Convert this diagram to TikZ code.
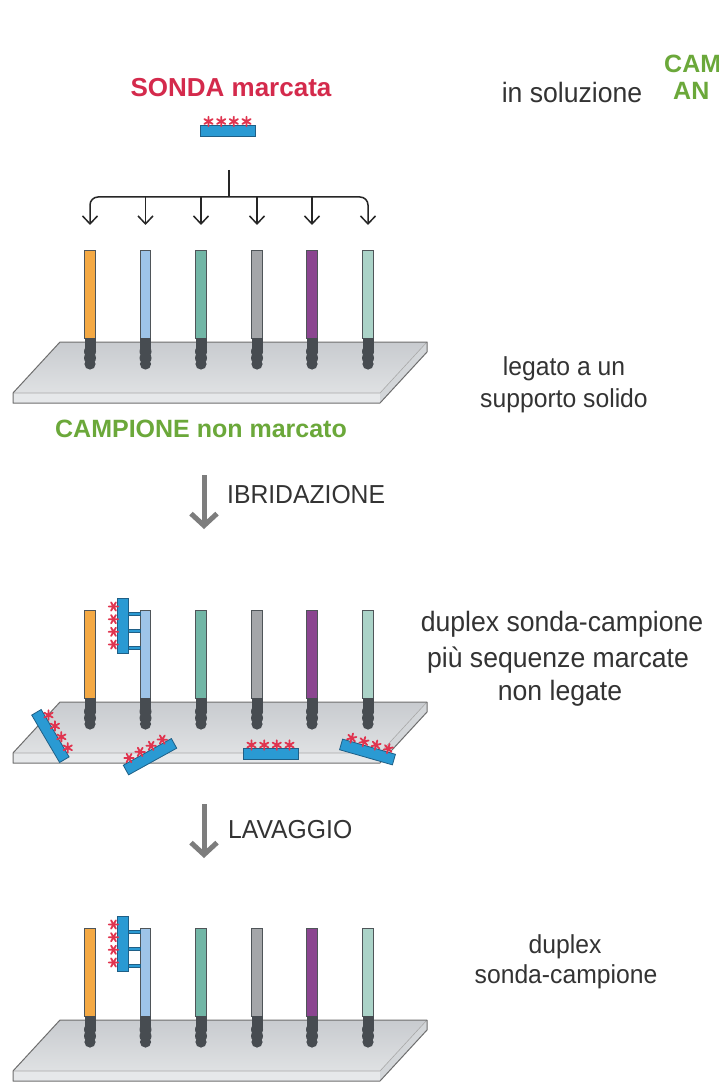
\documentclass[tikz,border=0pt]{standalone}
\usepackage{fontspec}
\setmainfont{Liberation Sans}
\newfontfamily\bodyfont[FakeStretch=0.95]{Liberation Sans}
\usetikzlibrary{arrows.meta}

\definecolor{probered}{HTML}{D42A4C}
\definecolor{labelgreen}{HTML}{6BA83A}
\definecolor{probeblue}{HTML}{2A9AD3}
\definecolor{probeedge}{HTML}{1F5F86}
\definecolor{starred}{HTML}{E0344F}
\definecolor{txtgray}{HTML}{333333}
\definecolor{arrowgray}{HTML}{7D7D7D}
\definecolor{slideA}{HTML}{C8CBCF}
\definecolor{slideB}{HTML}{DFE1E3}
\definecolor{slidefront}{HTML}{E6E8EA}
\definecolor{slideside}{HTML}{D3D6D9}
\definecolor{slideline}{HTML}{6E6E6E}
\definecolor{bead}{HTML}{474C51}
\definecolor{stripedge}{HTML}{4F5559}
\definecolor{sOrange}{HTML}{F4A944}
\definecolor{sBlue}{HTML}{9EC4E8}
\definecolor{sTeal}{HTML}{72B6A6}
\definecolor{sGray}{HTML}{A4A6A9}
\definecolor{sPurple}{HTML}{8B4590}
\definecolor{sMint}{HTML}{ABD3C8}

\tikzset{
  bodytext/.style={font=\bodyfont\fontsize{26}{31}\selectfont, text=txtgray, inner sep=0pt},
  bigbodytext/.style={font=\bodyfont\fontsize{28}{33}\selectfont, text=txtgray, inner sep=0pt},
  redlabel/.style={font=\bfseries\fontsize{26}{30}\selectfont, text=probered, inner sep=0pt},
  greenlabel/.style={font=\bfseries\fontsize{25}{30}\selectfont, text=labelgreen, inner sep=0pt},
  probebox/.style={fill=probeblue, draw=probeedge, line width=0.8},
  starline/.style={draw=starred, line width=1.8, line cap=round},
  stripbox/.style={draw=stripedge, line width=0.7},
  thinline/.style={draw=black!85, line width=1.5},
  thinarrow/.style={thinline, -{Straight Barb[length=8pt,width=15pt]}},
  bigarrow/.style={draw=arrowgray, line width=5, -{Straight Barb[length=12pt,width=26pt]}},
  probe/.pic={
    \draw[probebox] (-27.5,-5.5) rectangle (27.5,5.5);
    \foreach \sx in {-19,-6.3,6.3,19}{
      \draw[starline] (\sx,-9) +(90:4.8) -- +(270:4.8)
                               +(30:4.8) -- +(210:4.8)
                               +(150:4.8) -- +(330:4.8);
    }
  }
}

% one glass slide with six anchored strands; y = 0 is the top edge of the slide
\newcommand\arraypanel{%
  \shade[top color=slideA, bottom color=slideB] (60,0) -- (427,0) -- (380,51) -- (13,51) -- cycle;
  \fill[slidefront] (13,51) -- (380,51) -- (380,61) -- (13,61) -- cycle;
  \fill[slideside] (427,0) -- (427,10) -- (380,61) -- (380,51) -- cycle;
  \draw[slideline!60, line width=0.6] (13,51) -- (380,51) -- (427,0);
  \draw[slideline, line width=1, line join=round] (60,0) -- (427,0) -- (427,10) -- (380,61) -- (13,61) -- (13,51) -- cycle;
  \foreach \x/\c in {90/sOrange,145.5/sBlue,201/sTeal,257/sGray,312/sPurple,368/sMint}{
    \draw[stripbox, fill=\c] (\x-5.3,-92) rectangle (\x+5.3,-4);
    \fill[bead] (\x-5.5,-4) rectangle (\x+5.5,9);
    \fill[bead] (\x,9.5) circle (6);
    \fill[bead] (\x,16) circle (6);
    \fill[bead] (\x,22) circle (5.6);
  }
}

% probe paired with the second strand
\newcommand\duplexprobe{%
  \foreach \by in {-88,-71,-54}{
    \draw[fill=probeblue, draw=probeedge, line width=0.5] (127,\by-1.5) rectangle (140.2,\by+1.5);
  }
  \pic[rotate=90] at (122.5,-76.5) {probe};
}

\begin{document}
\begin{tikzpicture}[x=1pt,y=-1pt]
\useasboundingbox[fill=white] (0,0) rectangle (718,1083);

% ---------- top: labelled probe and its distribution ----------
\node[redlabel, anchor=base] (sondalabel) at (231,97) {SONDA marcata};
\pic at (227.5,130.5) {probe};

\node[bigbodytext, anchor=base] (insol) at (572,103) {in soluzione};
\node[greenlabel, anchor=base west] (camA) at (664,73) {CAM};
\node[greenlabel, anchor=base west] (camB) at (673,100) {AN};

\coordinate (hubtop) at (229,170);
\coordinate (hub) at (229,197);
\foreach \x [count=\i] in {90,145.5,201,257,312,368}{
  \coordinate (aim\i) at (\x,225);
}
\draw[thinline] (hubtop) -- (hub);
\draw[thinline, rounded corners=8,
      {Straight Barb[length=8pt,width=15pt]}-{Straight Barb[length=8pt,width=15pt]}]
  (aim1) |- (hub) -| (aim6);
\foreach \i in {2,3,4,5}{
  \draw[thinarrow] (aim\i |- hub) -- (aim\i);
}

% ---------- panel 1: unlabelled sample on the support ----------
\begin{scope}[shift={(0,342)}]
  \arraypanel
\end{scope}
\node[bodytext, anchor=base] (leg1) at (564,375) {legato a un};
\node[bodytext, anchor=base] (leg2) at (564,407) {supporto solido};
\node[greenlabel, anchor=base] (camplabel) at (201,437) {CAMPIONE non marcato};

% ---------- hybridisation ----------
\coordinate (hybtop) at (204,475);
\coordinate (hybtip) at (204,529);
\draw[bigarrow] (hybtop) -- (hybtip);
\node[bodytext, anchor=base west] (hyblabel) at (227,503) {IBRIDAZIONE};

% ---------- panel 2: duplex plus unbound probes ----------
\begin{scope}[shift={(0,702)}]
  \arraypanel
  \duplexprobe
\end{scope}
\pic[rotate=-59.5] at (50.4,736) {probe};
\pic[rotate=29] at (150,756.7) {probe};
\pic at (270.5,754) {probe};
\pic[rotate=-16] at (367.5,752) {probe};

\node[bigbodytext, anchor=base] (dup1) at (562,631) {duplex sonda-campione};
\node[bigbodytext, anchor=base] (dup2) at (558,667) {più sequenze marcate};
\node[bigbodytext, anchor=base] (dup3) at (560,700) {non legate};

% ---------- washing ----------
\coordinate (lavtop) at (204,804);
\coordinate (lavtip) at (204,858);
\draw[bigarrow] (lavtop) -- (lavtip);
\node[bodytext, anchor=base west] (lavlabel) at (228,838) {LAVAGGIO};

% ---------- panel 3: only the duplex remains ----------
\begin{scope}[shift={(0,1020)}]
  \arraypanel
  \duplexprobe
\end{scope}
\node[bodytext, anchor=base] (fin1) at (565,953) {duplex};
\node[bodytext, anchor=base] (fin2) at (566,983) {sonda-campione};

\end{tikzpicture}
\end{document}
